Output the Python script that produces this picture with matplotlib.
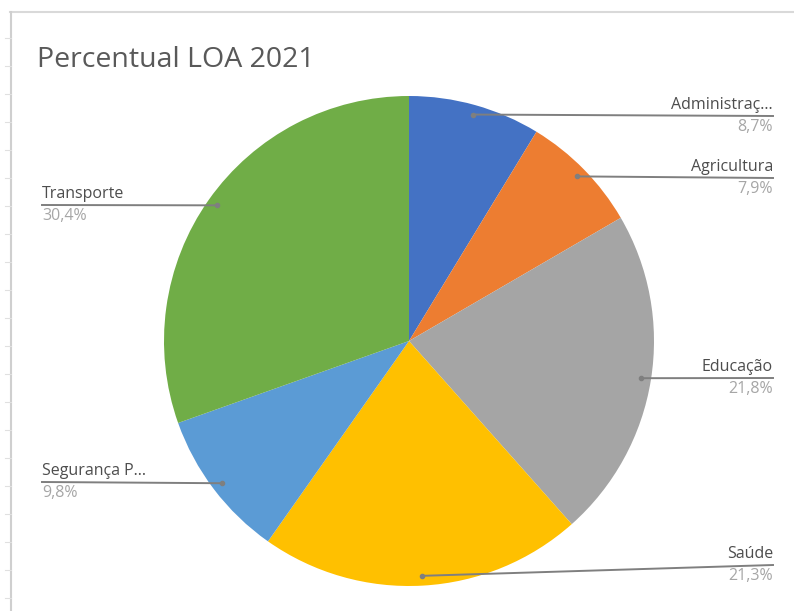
import numpy as np
import matplotlib.pyplot as plt
from matplotlib.lines import Line2D

# ----------------- DADOS -----------------
categorias = ["Administraç...", "Agricultura", "Educação", "Saúde",
              "Segurança P...", "Transporte"]
percentuais = [8.7, 7.9, 21.8, 21.3, 9.8, 30.4]
rotulos_pct = ["8,7%", "7,9%", "21,8%", "21,3%", "9,8%", "30,4%"]
cores = ["#4472C4", "#ED7D31", "#A5A5A5", "#FFC000", "#5B9BD5", "#70AD47"]
# -----------------------------------------

W, H = 794, 611
CX, CY, R = 409, 341, 245

# posicao dos rotulos (pixels, y para baixo): x do texto, y da linha guia, lado
rotulos_pos = [
    (773, 116, "right"),
    (773, 178, "right"),
    (773, 378, "right"),
    (773, 565, "right"),
    (42, 482, "left"),
    (42, 205, "left"),
]

fig = plt.figure(figsize=(W / 100, H / 100), dpi=100)
ax = fig.add_axes([0, 0, 1, 1])


def py(y):
    return H - y


# moldura estilo planilha
ax.add_line(Line2D([10, W], [py(12), py(12)], color="#d9d9d9", lw=1.5))
ax.add_line(Line2D([11, 11], [py(12), 0], color="#cfcfcf", lw=1.5))
for yt in range(38, H, 28):
    ax.add_line(Line2D([5, 11], [py(yt), py(yt)], color="#e0e0e0", lw=0.8))

ax.pie(percentuais, colors=cores, startangle=90, counterclock=False,
       center=(CX, py(CY)), radius=R, frame=True)
ax.set_xlim(0, W)
ax.set_ylim(0, H)
ax.set_aspect("equal")
ax.axis("off")

ax.text(37, py(60), "Percentual LOA 2021", fontsize=20.5, color="#595959",
        family="Open Sans", va="center", ha="left")

total = sum(percentuais)
acum = 0
for nome, pct, txt, (tx, ly, lado) in zip(categorias, percentuais, rotulos_pct, rotulos_pos):
    meio = (acum + pct / 2) / total * 2 * np.pi
    acum += pct
    dx = CX + 0.96 * R * np.sin(meio)
    dy = CY - 0.96 * R * np.cos(meio)
    ax.plot([dx, tx], [py(dy), py(ly)], color="#7f7f7f", lw=1.4)
    ax.plot([dx], [py(dy)], "o", ms=3, color="#7f7f7f")
    ax.text(tx, py(ly - 3), nome, fontsize=11.5, color="#4d4d4d", family="Open Sans",
            ha=lado, va="bottom")
    ax.text(tx, py(ly + 3), txt, fontsize=11.5, color="#a6a6a6", family="Open Sans",
            ha=lado, va="top")

fig.savefig("out.png", dpi=100, facecolor="white")
